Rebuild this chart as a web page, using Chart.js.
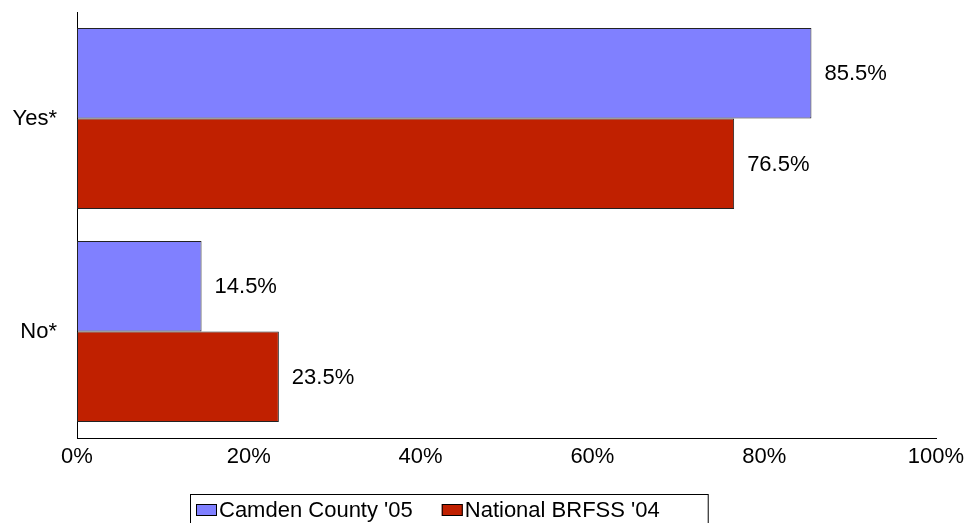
<!DOCTYPE html>
<html>
<head>
<meta charset="utf-8">
<script src="https://cdn.jsdelivr.net/npm/chart.js@4/dist/chart.umd.min.js"></script>
<style>
  html, body { margin: 0; padding: 0; background: #fff; }
  #grafico { display: block; }
</style>
</head>
<body>
<canvas id="grafico" width="966" height="523"></canvas>
<script>
// DATOS:
const categorias = ["Yes*", "No*"];
const series = ["Camden County '05", "National BRFSS '04"];
const camden = [85.5, 14.5];
const nacional = [76.5, 23.5];
const colores = ["#8080FF", "#C02000"];
const ticksX = [0, 20, 40, 60, 80, 100];

const fuente = "'Liberation Sans', Arial, sans-serif";

// etiquetas de valor a la derecha de cada barra
const etiquetasValor = {
    id: "etiquetasValor",
    afterDatasetsDraw(chart) {
        const ctx = chart.ctx;
        ctx.save();
        ctx.font = "22px " + fuente;
        ctx.fillStyle = "#000";
        ctx.textAlign = "left";
        ctx.textBaseline = "middle";
        chart.data.datasets.forEach((ds, i) => {
            chart.getDatasetMeta(i).data.forEach((barra, j) => {
                ctx.fillText(ds.data[j].toFixed(1) + "%", barra.x + 13, barra.y + 1);
            });
        });
        ctx.restore();
    }
};

// leyenda con recuadro, abajo a la izquierda
const leyendaCaja = {
    id: "leyendaCaja",
    afterDraw(chart) {
        const ctx = chart.ctx;
        const izq = chart.chartArea.left + 113;
        const arriba = chart.chartArea.bottom + 56;
        ctx.save();
        ctx.font = "22px " + fuente;
        ctx.textBaseline = "middle";
        ctx.textAlign = "left";
        let x = izq + 6;
        const yMedio = arriba + 16;
        chart.data.datasets.forEach((ds, i) => {
            ctx.fillStyle = ds.backgroundColor;
            ctx.fillRect(x, yMedio - 6, 21, 12);
            ctx.strokeStyle = "#000";
            ctx.lineWidth = 1;
            ctx.strokeRect(x + 0.5, yMedio - 5.5, 20, 11);
            ctx.fillStyle = "#000";
            ctx.fillText(ds.label, x + 23, yMedio + 1);
            x += 23 + ctx.measureText(ds.label).width + 29;
        });
        ctx.strokeStyle = "#000";
        ctx.lineWidth = 1;
        ctx.strokeRect(izq + 0.5, arriba + 0.5, x - izq - 29 + 48, 40);
        ctx.restore();
    }
};

new Chart(document.getElementById("grafico"), {
    type: "bar",
    data: {
        labels: categorias,
        datasets: [
            {
                label: series[0],
                data: camden,
                backgroundColor: colores[0],
                borderColor: "#222",
                borderWidth: 1,
                borderSkipped: false
            },
            {
                label: series[1],
                data: nacional,
                backgroundColor: colores[1],
                borderColor: "#222",
                borderWidth: 1,
                borderSkipped: false
            }
        ]
    },
    options: {
        indexAxis: "y",
        responsive: false,
        animation: false,
        datasets: {
            bar: { categoryPercentage: 0.85, barPercentage: 1.0 }
        },
        layout: {
            padding: { top: 12, right: 30, left: 0, bottom: 45 }
        },
        scales: {
            x: {
                min: 0,
                max: 100,
                afterBuildTicks: (scale) => {
                    scale.ticks = ticksX.map(v => ({ value: v }));
                },
                afterFit: (scale) => {
                    scale.height = 40;
                    scale.paddingLeft = 0;
                    scale.paddingRight = 0;
                },
                grid: { display: false, drawTicks: false },
                border: { display: true, color: "#000", width: 1 },
                ticks: {
                    padding: 6,
                    color: "#000",
                    font: { family: fuente, size: 22 },
                    maxRotation: 0,
                    callback: (v) => v + "%"
                }
            },
            y: {
                afterFit: (scale) => {
                    scale.width = 77;
                    scale.paddingTop = 0;
                    scale.paddingBottom = 0;
                },
                grid: { display: false, drawTicks: false },
                border: { display: true, color: "#000", width: 1 },
                ticks: {
                    padding: 20,
                    color: "#000",
                    font: { family: fuente, size: 22 }
                }
            }
        },
        plugins: {
            legend: { display: false },
            tooltip: { enabled: false }
        }
    },
    plugins: [etiquetasValor, leyendaCaja]
});
</script>
</body>
</html>
